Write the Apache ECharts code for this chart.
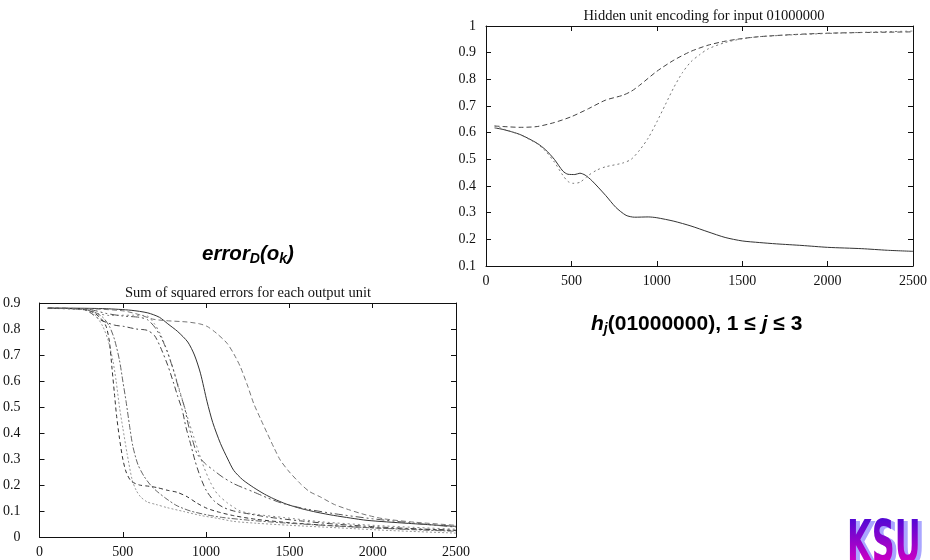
<!DOCTYPE html>
<html>
<head>
<meta charset="utf-8">
<script src="https://cdn.jsdelivr.net/npm/echarts@6/dist/echarts.min.js"></script>
<style>
html,body{margin:0;padding:0;background:#fff;}
#c{width:930px;height:560px;}
</style>
</head>
<body>
<div id="c"></div>
<script>
// ---------- Data: hidden unit encoding for input 01000000 ----------
var hiddenTitle = 'Hidden unit encoding for input 01000000';
var hidden1 = [[50,0.618],[100,0.612],[200,0.593],[300,0.56],[350,0.535],[400,0.5],[450,0.456],[480,0.444],[520,0.443],[550,0.448],[580,0.441],[620,0.42],[700,0.365],[760,0.32],[820,0.29],[870,0.283],[950,0.284],[1000,0.281],[1100,0.268],[1200,0.25],[1300,0.228],[1400,0.207],[1500,0.194],[1600,0.188],[1700,0.183],[1850,0.177],[2000,0.17],[2200,0.165],[2350,0.159],[2500,0.155]];
var hidden2 = [[50,0.625],[100,0.623],[200,0.62],[300,0.623],[400,0.638],[500,0.66],[600,0.69],[700,0.722],[800,0.74],[850,0.755],[900,0.778],[1000,0.83],[1100,0.872],[1200,0.905],[1300,0.928],[1400,0.943],[1500,0.953],[1600,0.96],[1800,0.968],[2000,0.973],[2250,0.976],[2500,0.978]];
var hidden3 = [[50,0.625],[100,0.614],[200,0.592],[300,0.558],[350,0.53],[400,0.49],[450,0.44],[480,0.417],[510,0.41],[550,0.414],[600,0.44],[650,0.46],[700,0.472],[800,0.486],[850,0.5],[900,0.535],[950,0.58],[1000,0.64],[1050,0.705],[1100,0.77],[1150,0.825],[1200,0.866],[1250,0.892],[1300,0.914],[1400,0.938],[1500,0.952],[1600,0.96],[1800,0.967],[2000,0.972],[2250,0.977],[2500,0.981]];

// ---------- Data: sum of squared errors for each output unit ----------
var errorTitle = 'Sum of squared errors for each output unit';
var err1 = [[50,0.88],[200,0.88],[400,0.878],[550,0.872],[650,0.862],[720,0.845],[770,0.82],[830,0.79],[890,0.75],[930,0.7],[966,0.63],[1006,0.52],[1040,0.44],[1086,0.36],[1130,0.3],[1166,0.256],[1220,0.22],[1286,0.19],[1350,0.165],[1406,0.147],[1480,0.127],[1566,0.11],[1666,0.095],[1766,0.083],[1866,0.073],[1966,0.064],[2200,0.053],[2500,0.041]];
var err2 = [[50,0.88],[300,0.878],[500,0.87],[600,0.855],[680,0.838],[760,0.832],[886,0.827],[960,0.82],[1006,0.81],[1060,0.785],[1126,0.745],[1170,0.7],[1206,0.654],[1250,0.58],[1286,0.513],[1330,0.45],[1366,0.4],[1410,0.34],[1446,0.295],[1500,0.25],[1566,0.205],[1620,0.175],[1686,0.154],[1770,0.125],[1866,0.103],[1960,0.085],[2066,0.07],[2250,0.057],[2500,0.045]];
var err3 = [[50,0.88],[250,0.878],[300,0.865],[366,0.835],[450,0.815],[506,0.81],[580,0.8],[646,0.795],[690,0.775],[726,0.73],[770,0.66],[806,0.59],[830,0.54],[856,0.49],[880,0.42],[906,0.36],[935,0.29],[966,0.23],[1000,0.18],[1046,0.14],[1100,0.115],[1166,0.1],[1266,0.088],[1366,0.077],[1566,0.062],[1766,0.05],[2000,0.04],[2250,0.032],[2500,0.026]];
var err4 = [[50,0.88],[300,0.872],[350,0.86],[420,0.852],[500,0.853],[566,0.853],[646,0.85],[690,0.82],[726,0.78],[770,0.71],[806,0.64],[836,0.575],[866,0.51],[896,0.445],[926,0.385],[956,0.325],[986,0.27],[1026,0.21],[1066,0.167],[1130,0.13],[1206,0.1],[1300,0.087],[1466,0.075],[1700,0.058],[2000,0.045],[2250,0.037],[2500,0.03]];
var err5 = [[50,0.88],[300,0.875],[400,0.86],[500,0.85],[600,0.845],[650,0.835],[700,0.8],[750,0.74],[800,0.65],[840,0.56],[870,0.5],[890,0.44],[920,0.37],[946,0.32],[990,0.285],[1046,0.256],[1100,0.23],[1166,0.205],[1220,0.19],[1286,0.173],[1370,0.15],[1466,0.128],[1600,0.108],[1766,0.09],[2000,0.07],[2250,0.053],[2500,0.038]];
var err6 = [[50,0.88],[250,0.877],[300,0.87],[340,0.85],[380,0.81],[410,0.76],[440,0.68],[460,0.6],[480,0.5],[500,0.42],[526,0.32],[556,0.22],[580,0.18],[606,0.155],[646,0.135],[700,0.125],[766,0.113],[866,0.098],[966,0.083],[1066,0.072],[1166,0.06],[1300,0.053],[1500,0.045],[1800,0.035],[2100,0.025],[2500,0.015]];
var err7 = [[50,0.88],[250,0.877],[320,0.865],[370,0.84],[400,0.81],[420,0.75],[435,0.65],[450,0.55],[462,0.47],[480,0.38],[500,0.3],[520,0.25],[550,0.215],[600,0.2],[660,0.195],[706,0.19],[766,0.18],[826,0.172],[886,0.155],[946,0.13],[1006,0.11],[1080,0.095],[1166,0.082],[1300,0.068],[1500,0.055],[1800,0.042],[2100,0.033],[2500,0.025]];
var err8 = [[50,0.88],[250,0.877],[320,0.868],[380,0.845],[420,0.81],[450,0.76],[480,0.68],[500,0.6],[520,0.52],[540,0.43],[560,0.35],[590,0.28],[626,0.235],[666,0.2],[706,0.175],[766,0.145],[826,0.12],[906,0.1],[1006,0.085],[1100,0.075],[1250,0.065],[1450,0.055],[1700,0.045],[2000,0.035],[2250,0.028],[2500,0.022]];

var xMin = 0, xMax = 2500, xStep = 500;
var hidMin = 0.1, hidMax = 1, errMin = 0, errMax = 0.9, yStep = 0.1;

// KSU logo drawn on an offscreen canvas (gradient letters with soft shadow)
function makeLogo(){
  var cv = document.createElement('canvas');
  cv.width = 85; cv.height = 45;
  var ctx = cv.getContext('2d');
  ctx.font = 'bold 58px "DejaVu Sans"';
  ctx.textBaseline = 'alphabetic';
  var sx = 0.55, base = 5 + 58 * 0.729;
  ctx.save(); ctx.scale(sx, 1);
  ctx.fillStyle = '#aaa6ff';
  ctx.fillText('KSU', 6 / sx, base + 2);
  var g = ctx.createLinearGradient(0, 5, 0, 45);
  g.addColorStop(0, '#5608d4');
  g.addColorStop(1, '#c800c4');
  ctx.fillStyle = g;
  ctx.fillText('KSU', 2 / sx, base);
  ctx.restore();
  return cv;
}

var chart = echarts.init(document.getElementById('c'), null, {renderer:'canvas'});
var serif = 'Liberation Serif';
var axisCol = '#111';

function xAx(grid, pos, labels){
  return {type:'value', gridIndex:grid, position:pos, min:xMin, max:xMax, interval:xStep,
    axisLine:{show:true, onZero:false, lineStyle:{color:axisCol, width:1}},
    axisTick:{show:true, inside:true, length:5, lineStyle:{color:axisCol}},
    axisLabel:{show:labels, margin:8, fontFamily:serif, fontSize:14, color:'#111',
      formatter:function(v){return String(v);}},
    splitLine:{show:false}};
}
function yAx(grid, pos, labels, mn, mx, margin){
  return {type:'value', gridIndex:grid, position:pos, min:mn, max:mx, interval:yStep,
    axisLine:{show:true, onZero:false, lineStyle:{color:axisCol, width:1}},
    axisTick:{show:true, inside:true, length:5, lineStyle:{color:axisCol}},
    axisLabel:{show:labels, margin:margin, fontFamily:serif, fontSize:14, color:'#111',
      formatter:function(v){return String(Math.round(v*10)/10);}},
    splitLine:{show:false}};
}
function ln(data, xi, yi, color, type){
  return {type:'line', data:data, xAxisIndex:xi, yAxisIndex:yi, showSymbol:false, smooth:0.25,
    animation:false, silent:true, lineStyle:{color:color, width:1, type:type}};
}

var option = {
  animation:false,
  backgroundColor:'#fff',
  title:[
    {text:hiddenTitle, left:699, top:4, textAlign:'center',
     textStyle:{fontFamily:serif, fontSize:14.5, fontWeight:'normal', color:'#111'}},
    {text:errorTitle, left:243, top:281, textAlign:'center',
     textStyle:{fontFamily:serif, fontSize:14.5, fontWeight:'normal', color:'#111'}}
  ],
  grid:[
    {left:486, top:26, width:427, height:240},
    {left:39, top:303, width:417, height:234}
  ],
  xAxis:[xAx(0,'bottom',true), xAx(0,'top',false), xAx(1,'bottom',true), xAx(1,'top',false)],
  yAxis:[yAx(0,'left',true,hidMin,hidMax,10), yAx(0,'right',false,hidMin,hidMax,10),
         yAx(1,'left',true,errMin,errMax,19), yAx(1,'right',false,errMin,errMax,10)],
  series:[
    ln(hidden1,0,0,'#333','solid'),
    ln(hidden2,0,0,'#444',[5,3]),
    ln(hidden3,0,0,'#777',[2,3]),
    ln(err1,2,2,'#333','solid'),
    ln(err2,2,2,'#777',[5,3]),
    ln(err3,2,2,'#444',[6,3,2,3]),
    ln(err4,2,2,'#888',[2,3]),
    ln(err5,2,2,'#555',[8,3,2,3,2,3]),
    ln(err6,2,2,'#999',[2,2]),
    ln(err7,2,2,'#333',[4,3]),
    ln(err8,2,2,'#666',[6,2,2,2])
  ],
  graphic:[
    {type:'text', left:202, top:244, style:{
      text:'{a|error}{s|D}{a|(o}{s|k}{a|)}',
      rich:{
        a:{fontFamily:'Liberation Sans', fontSize:20.5, fontWeight:'bold', fontStyle:'italic', color:'#000', lineHeight:24},
        s:{fontFamily:'Liberation Sans', fontSize:14, fontWeight:'bold', fontStyle:'italic', color:'#000', lineHeight:10, verticalAlign:'bottom'}
      }}},
    {type:'text', left:591, top:314, style:{
      text:'{i|h}{s|j}{a|(01000000), 1 ≤ }{i|j}{a| ≤ 3}',
      rich:{
        a:{fontFamily:'Liberation Sans', fontSize:21, fontWeight:'bold', color:'#000', lineHeight:24},
        i:{fontFamily:'Liberation Sans', fontSize:21, fontWeight:'bold', fontStyle:'italic', color:'#000', lineHeight:24},
        s:{fontFamily:'Liberation Sans', fontSize:14, fontWeight:'bold', fontStyle:'italic', color:'#000', lineHeight:10, verticalAlign:'bottom'}
      }}},
    {type:'image', x:845, y:515, style:{image:makeLogo(), width:85, height:45}}
  ]
};
chart.setOption(option);
</script>
</body>
</html>
